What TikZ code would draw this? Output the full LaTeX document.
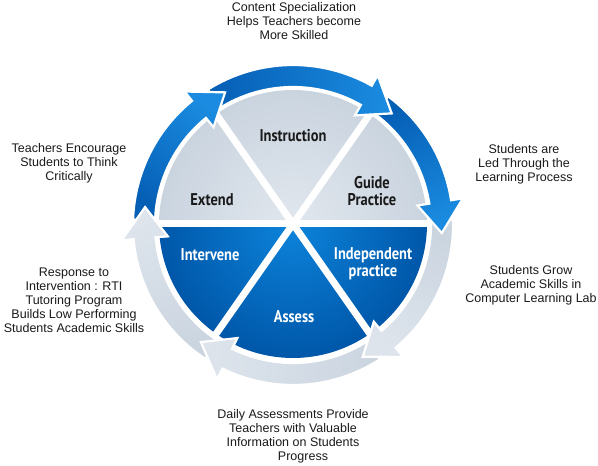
\documentclass[tikz,border=0pt]{standalone}
\usepackage{fontspec}
\setmainfont{Liberation Sans}
\newfontfamily\labfont{PT Sans}[FakeStretch=0.85]
\definecolor{txt}{HTML}{1A1A1A}
\definecolor{headblue}{HTML}{1A8BE0}
\definecolor{tailblue}{HTML}{055FB5}
\definecolor{headgray}{HTML}{DDE4EC}
\definecolor{tailgray}{HTML}{CBD5E0}
\definecolor{pieupin}{HTML}{E1E7EE}
\definecolor{pieupout}{HTML}{CAD4DF}
\definecolor{piednin}{HTML}{0C84DB}
\definecolor{piednout}{HTML}{0057A9}
\newcommand\RingArrowPath[3]{(#1:160) arc[start angle=#1, end angle=#3, radius=160] -- (#3:172) -- (#2:149) -- (#3:126) -- (#3:138) arc[start angle=#3, end angle=#1, radius=138] -- cycle}
\begin{document}
\begin{tikzpicture}[x=1pt,y=1pt,
  outer/.style={font=\fontsize{12.5}{14}\selectfont, align=center, text=txt, inner sep=0pt},
  lab/.style={font=\labfont\bfseries\fontsize{17}{17}\selectfont, align=center, inner sep=0pt},
  uplab/.style={lab, text=txt},
  dnlab/.style={lab, text=white},
  upsec/.style={inner color=pieupin, outer color=pieupout},
  dnsec/.style={inner color=piednin, outer color=piednout},
  darkarrow/.style={draw=white, line width=2.2pt, line join=miter, top color=headblue, bottom color=tailblue},
  grayarrow/.style={draw=white, line width=2.2pt, line join=miter, top color=headgray, bottom color=tailgray},
  divider/.style={draw=white, line width=7pt}
]
\fill[white] (0,0) rectangle (598,466);
\useasboundingbox (0,0) rectangle (598,466);

% ---- pie ----
\begin{scope}[shift={(293,242)}]
  \begin{scope}\clip (0,0) -- (125:134) arc[start angle=125, end angle=180, radius=134] -- cycle; \shade[upsec] (0,0) circle (134);\end{scope}
  \begin{scope}\clip (0,0) -- (55:134) arc[start angle=55, end angle=125, radius=134] -- cycle; \shade[upsec] (0,0) circle (134);\end{scope}
  \begin{scope}\clip (0,0) -- (0:134) arc[start angle=0, end angle=55, radius=134] -- cycle; \shade[upsec] (0,0) circle (134);\end{scope}
  \begin{scope}\clip (0,0) -- (-55:134) arc[start angle=-55, end angle=0, radius=134] -- cycle; \shade[dnsec] (0,0) circle (134);\end{scope}
  \begin{scope}\clip (0,0) -- (-125:134) arc[start angle=-125, end angle=-55, radius=134] -- cycle; \shade[dnsec] (0,0) circle (134);\end{scope}
  \begin{scope}\clip (0,0) -- (-180:134) arc[start angle=-180, end angle=-125, radius=134] -- cycle; \shade[dnsec] (0,0) circle (134);\end{scope}
  \draw[divider] (180:137) -- (0:137);
  \draw[divider] (125:137) -- (-55:137);
  \draw[divider] (55:137) -- (-125:137);
\end{scope}

% ---- ring of arrows ----
\begin{scope}[shift={(293,241)}]
  \path[grayarrow, shading angle=-335.05] \RingArrowPath{-123.2}{-186.9}{-174.9};
  \path[grayarrow, shading angle=-272.65] \RingArrowPath{-57.1}{-128.2}{-116.2};
  \path[grayarrow, shading angle=-210.1] \RingArrowPath{1.9}{-62.1}{-50.1};
  \path[darkarrow, shading angle=-154.8] \RingArrowPath{53.5}{-3.1}{8.9};
  \path[darkarrow, shading angle=-94.7] \RingArrowPath{122.1}{48.5}{60.5};
  \path[darkarrow, shading angle=-32.4] \RingArrowPath{178.1}{117.1}{129.1};
  \begin{scope}
    \clip (0,0) -- (160:200) arc[start angle=160, end angle=195, radius=200] -- cycle;
    \path[grayarrow, shading angle=-335.05] \RingArrowPath{-123.2}{-186.9}{-174.9};
  \end{scope}
\end{scope}

% ---- pie labels ----
\node[uplab] (instr) at (293,330) {Instruction};
\node[uplab] (guide) at (372,274.5) {Guide\\Practice};
\node[uplab] (extend) at (212,266) {Extend};
\node[dnlab] (interv) at (210,211) {Intervene};
\node[dnlab] (indep) at (373,202.5) {Independent\\practice};
\node[dnlab] (assess) at (294,149) {Assess};

% ---- outer texts ----
\node[outer] (ttop) at (294,445) {Content Specialization\\Helps Teachers become\\More Skilled};
\node[outer] (tlt) at (69,302.5) {Teachers Encourage\\Students to Think\\Critically};
\node[outer] (trt) at (524,301.7) {Students are\\Led Through the\\Learning Process};
\node[outer] (trb) at (531,180.7) {Students Grow\\Academic Skills in\\Computer Learning Lab};
\node[outer] (tlb) at (74,166) {Response to\\Intervention : RTI\\Tutoring Program\\Builds Low Performing\\Students Academic Skills};
\node[outer] (tbot) at (293,29.5) {Daily Assessments Provide\\Teachers with Valuable\\Information on Students\\\hspace*{20pt}Progress};
\end{tikzpicture}
\end{document}
